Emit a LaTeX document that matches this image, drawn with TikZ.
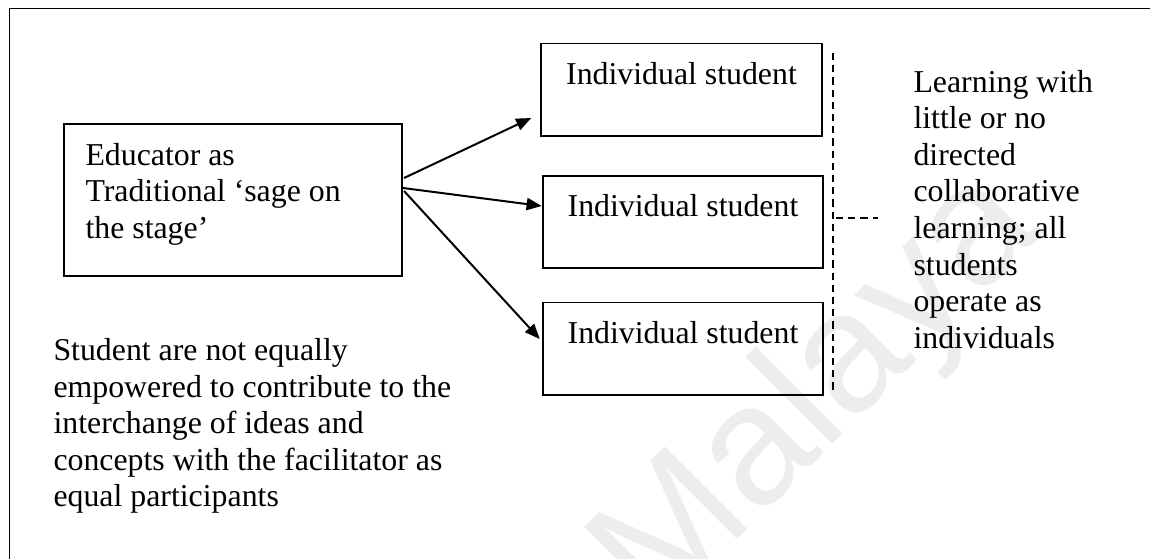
\documentclass[tikz,border=0pt]{standalone}
\usepackage{fontspec}
\setmainfont{Liberation Serif}
\newfontfamily\wmfont{Liberation Sans}
\usetikzlibrary{arrows.meta,calc}

\begin{document}
\begin{tikzpicture}[x=0.3771pt,y=-0.3771pt,
  font=\fontsize{12}{13.8}\selectfont,
  frameline/.style={line width=0.75pt},
  studentbox/.style={draw, line width=0.75pt, inner sep=0pt,
    minimum width=105.8pt, text height=15.3pt, text depth=19.4pt},
  edubox/.style={draw, line width=0.75pt, inner sep=0pt,
    minimum width=127.5pt, minimum height=57.3pt},
  % multi-line notes: the base anchor sits on the last line
  plaintext/.style={inner sep=0pt, anchor=base west, align=left},
  arr/.style={line width=0.75pt, -{Triangle[length=5.7pt,width=4.6pt]}},
  divider/.style={line width=0.55pt, dash pattern=on 2.7pt off 1.9pt},
  watermark/.style={text=black!7, font=\wmfont\fontsize{64}{64}\selectfont}]

\useasboundingbox (0,0) rectangle (1150,558);

% faint repository mark behind the drawing
\node[watermark, rotate=45] (mark) at (820,395) {Malaya};

% outer frame (open to the right and bottom)
\draw[frameline] (1170,8.5) -- (9.5,8.5) -- (9.5,580);

% educator
\node[edubox] (edu) at (233,200) {};
\node[plaintext] (edutext) at (85,238.2)
  {Educator as\\Traditional ‘sage on\\the stage’};

% students
\node[studentbox] (stu1) at (681.5,89.5) {Individual student};
\node[studentbox] (stu2) at (683,222) {Individual student};
\node[studentbox] (stu3) at (683,348.5) {Individual student};

% arrows from the educator to each student
\draw[arr] ($(edu.east)+(1,-22)$) -- ($(stu1.west)+(-9,28.5)$);
\draw[arr] ($(edu.east)+(0,-12)$) -- ($(stu2.west)+(0,-16)$);
\draw[arr] ($(edu.east)+(1,-9)$) -- ($(stu3.west)+(-2,-9.5)$);

% dashed bracket towards the note on the right
\coordinate (vtop) at (833,53);
\coordinate (vbot) at (833,394);
\coordinate (hstart) at (836,218);
\coordinate (hend) at (878,218);
\draw[divider] (vtop) -- (vbot);
\draw[divider] (hstart) -- (hend);

% notes
\node[plaintext] (note) at (913,348.2)
  {Learning with\\little or no\\directed\\collaborative\\learning; all\\students\\operate as\\individuals};
\node[plaintext] (remark) at (53,506.9)
  {Student are not equally\\empowered to contribute to the\\interchange of ideas and\\concepts with the facilitator as\\equal participants};

\end{tikzpicture}
\end{document}
